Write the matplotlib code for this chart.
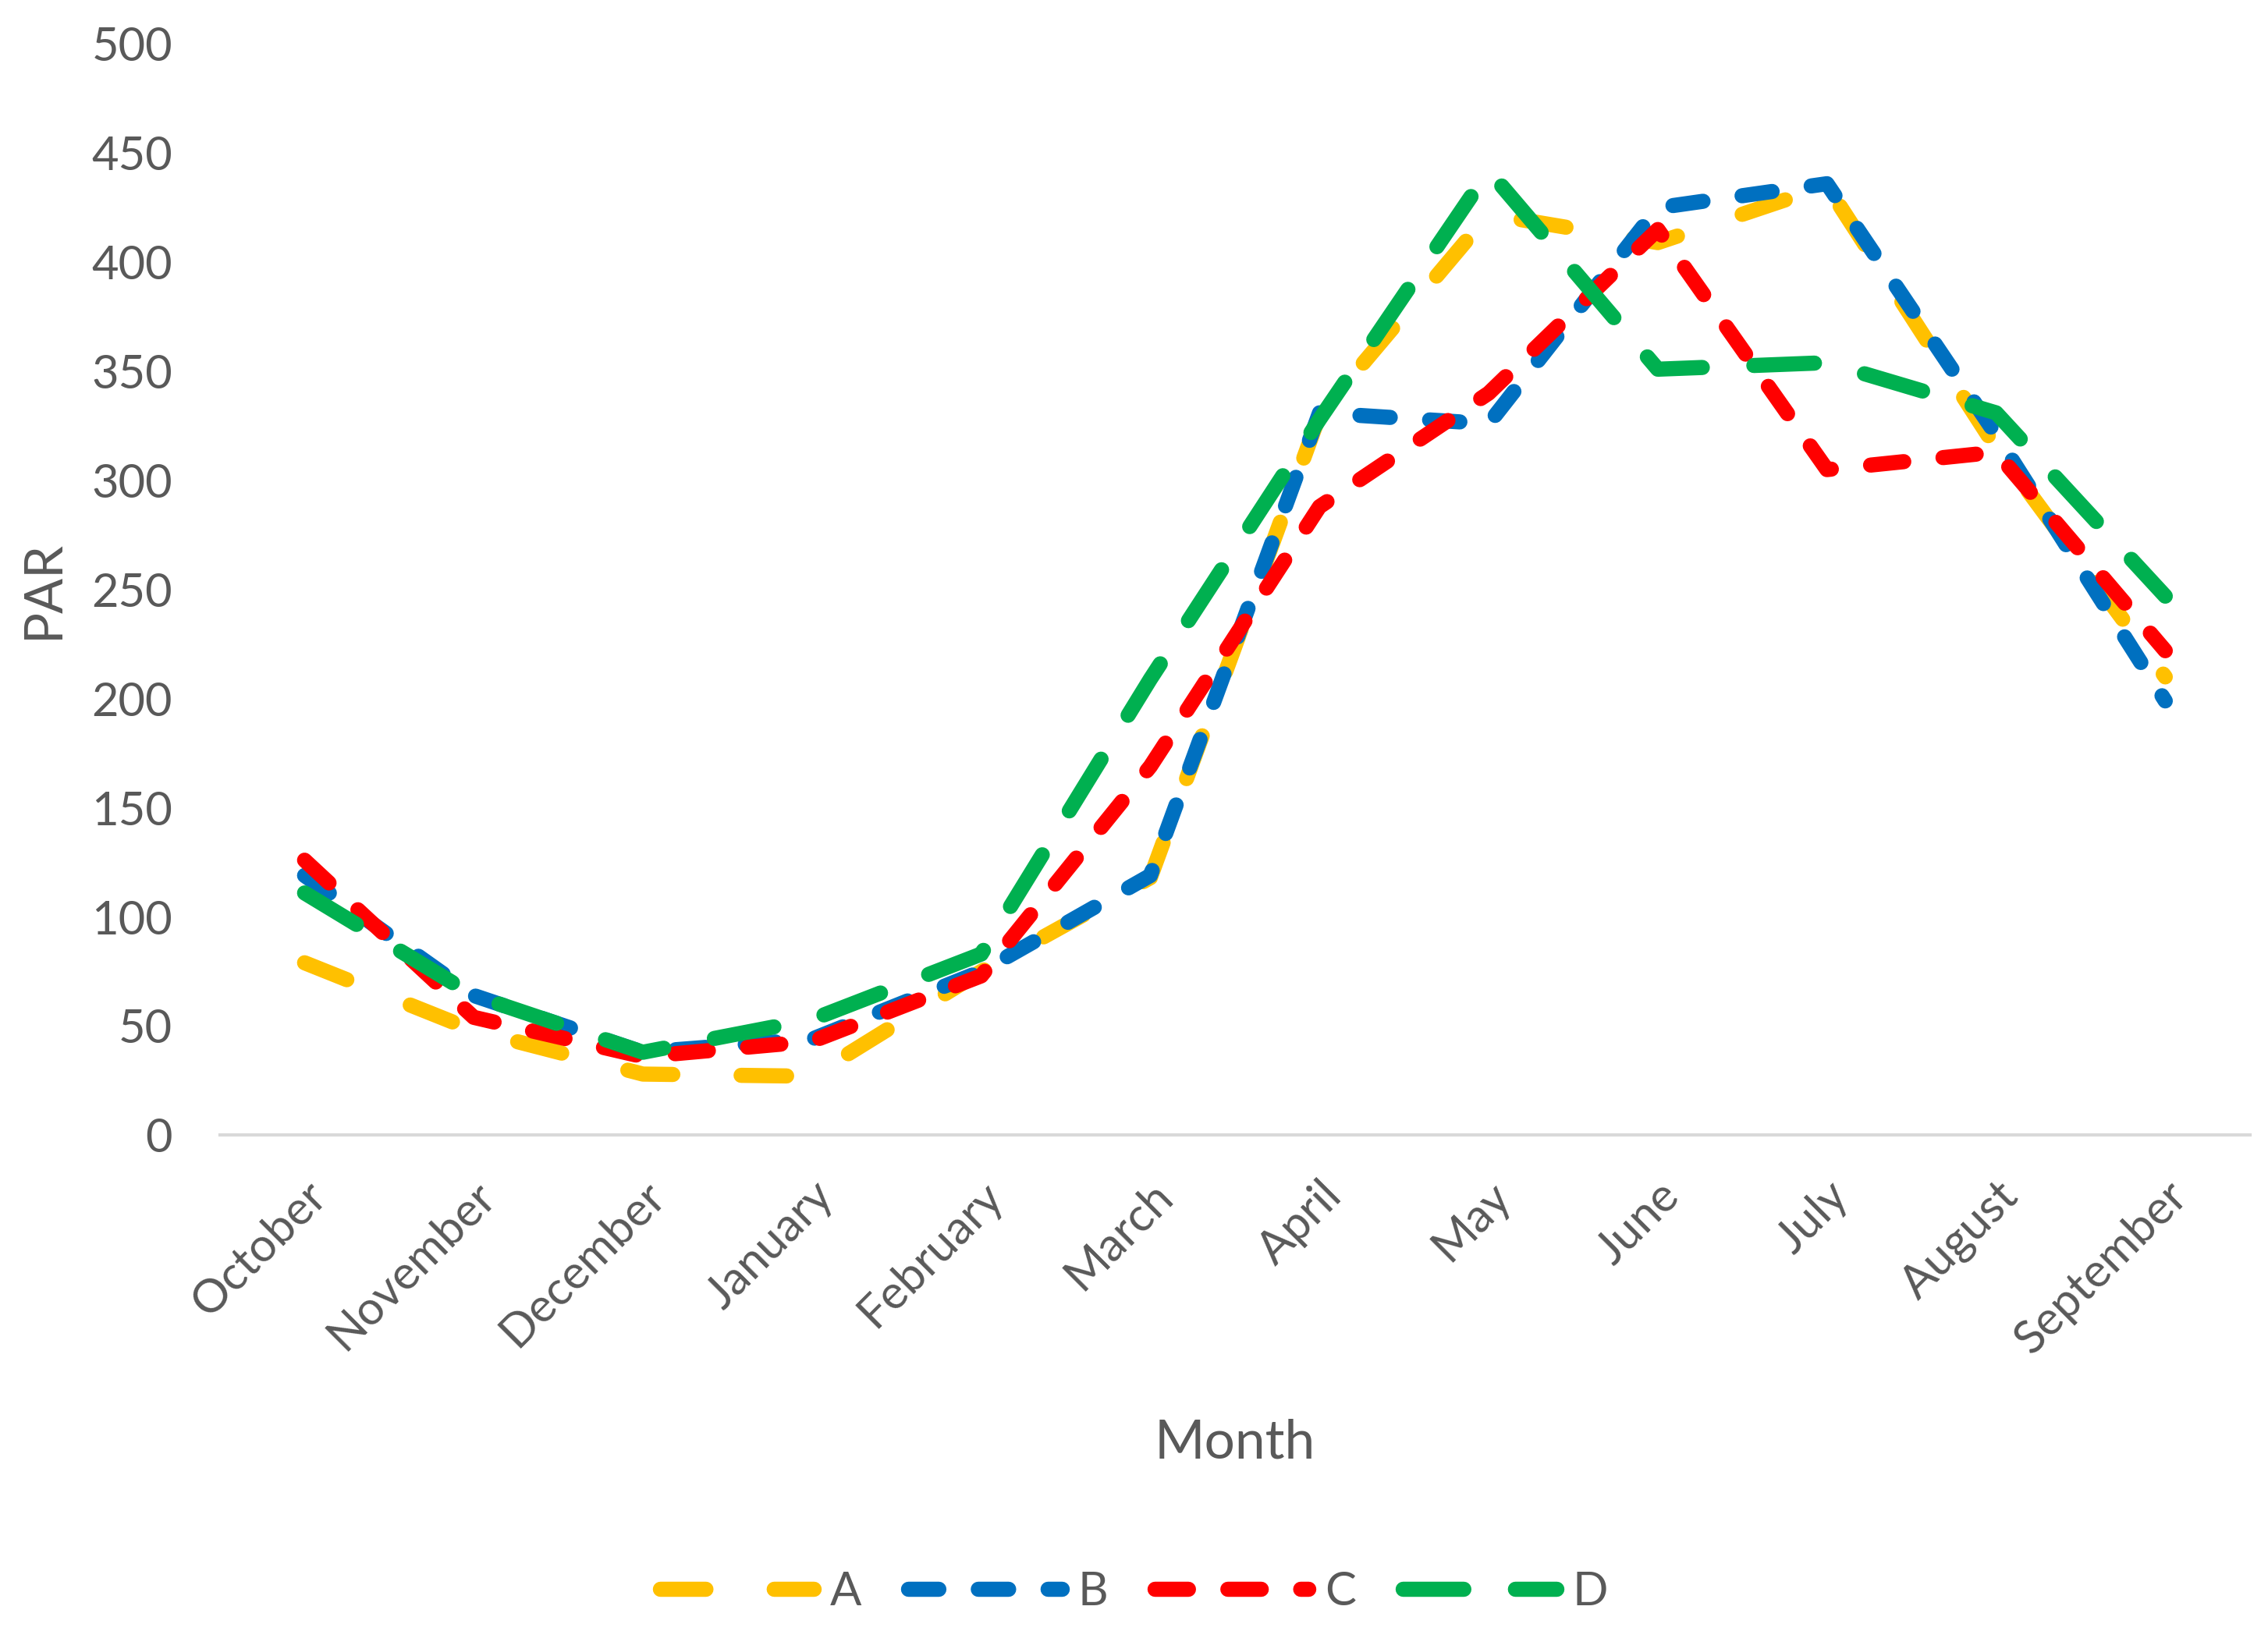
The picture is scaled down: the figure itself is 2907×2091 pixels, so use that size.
import matplotlib
matplotlib.use("Agg")
import matplotlib.pyplot as plt

months = ["October", "November", "December", "January", "February", "March",
          "April", "May", "June", "July", "August", "September"]
series_names = ["A", "B", "C", "D"]
A = [79, 48, 28, 27, 75, 118, 330, 422, 409, 435, 315, 210]
B = [119, 64, 38, 44, 75, 119, 331, 326, 425, 436, 321, 199]
C = [126, 54, 36, 43, 73, 169, 288, 340, 415, 305, 313, 222]
D = [111, 64, 38, 53, 83, 209, 328, 442, 351, 354, 331, 247]
yticks = [0, 50, 100, 150, 200, 250, 300, 350, 400, 450, 500]

colors = ["#FFC000", "#0070C0", "#FF0000", "#00B050"]
dashes = [(3.0, 4.5), (2.0, 2.6), (2.2, 2.6), (4.0, 3.4)]

plt.rcParams['font.family'] = ['Lato', 'DejaVu Sans']
gray = "#595959"

fig = plt.figure(figsize=(29.07 / 2, 20.91 / 2), dpi=200)
ax = fig.add_axes([0.097, 0.304, 0.895, 0.669])

x = list(range(len(months)))
for name, vals, c, d in zip(series_names, [A, B, C, D], colors, dashes):
    ln, = ax.plot(x, vals, color=c, lw=7, label=name, solid_capstyle='round',
                  dash_capstyle='round', dash_joinstyle='round')
    ln.set_dashes(d)

ax.set_xlim(-0.5, len(months) - 0.5)
ax.set_ylim(0, 500)
ax.set_yticks(yticks)
ax.set_xticks(x)
ax.set_xticklabels(months, rotation=45, ha='right', rotation_mode='anchor')

for s in ['top', 'right', 'left']:
    ax.spines[s].set_visible(False)
ax.spines['bottom'].set_color('#D9D9D9')
ax.spines['bottom'].set_linewidth(1.5)
ax.tick_params(axis='both', length=0, labelsize=21.5, colors=gray)
ax.tick_params(axis='x', pad=18)
ax.tick_params(axis='y', pad=22)

ax.set_xlabel("Month", fontsize=25, color=gray, labelpad=26)
ax.set_ylabel("PAR", fontsize=24, color=gray, labelpad=11)

leg = fig.legend(loc='center', bbox_to_anchor=(0.5, 0.024), ncol=4, frameon=False,
                 fontsize=21.5, handlelength=3.3, handletextpad=0.35, columnspacing=1.0)
for t in leg.get_texts():
    t.set_color(gray)

fig.savefig("out.png", dpi=200, facecolor='white')
